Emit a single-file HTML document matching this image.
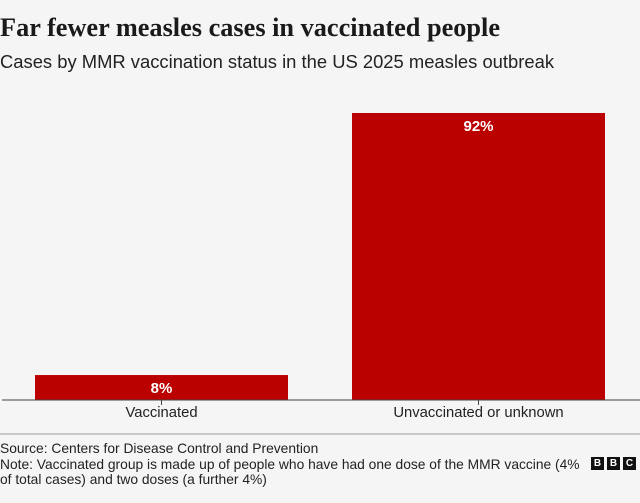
<!DOCTYPE html>
<html><head><meta charset="utf-8"><style>
body{margin:0;background:#f5f5f5;width:640px;height:503px;overflow:hidden;font-family:"Liberation Sans",sans-serif;color:#222}
.t{position:absolute;left:0;top:13px;font:bold 26.3px "Liberation Serif",serif;color:#1a1a1a;white-space:nowrap}
.s{position:absolute;left:0;top:51px;font-size:18.4px;color:#222;white-space:nowrap}
.f{position:absolute;left:0;font-size:13.8px;white-space:nowrap;color:#222}
.bbc{position:absolute;top:457px;width:13px;height:13px;background:#111;color:#fff;font:bold 10px "Liberation Sans",sans-serif;text-align:center;line-height:13px}
</style></head><body>
<div class="t">Far fewer measles cases in vaccinated people</div>
<div class="s">Cases by MMR vaccination status in the US 2025 measles outbreak</div>
<svg id="c" width="640" height="440" style="position:absolute;left:0;top:0"></svg>
<div style="position:absolute;left:0;top:433px;width:640px;height:2px;background:#c8c8c8"></div>
<div class="f" style="top:441px">Source: Centers for Disease Control and Prevention</div>
<div class="f" style="top:457px">Note: Vaccinated group is made up of people who have had one dose of the MMR vaccine (4%<br>of total cases) and two doses (a further 4%)</div>
<div class="bbc" style="left:591px">B</div>
<div class="bbc" style="left:607px">B</div>
<div class="bbc" style="left:623px">C</div>
<script>
const categories=["Vaccinated","Unvaccinated or unknown"];
const values=[8,92];
const valueLabels=["8%","92%"];
const svg=document.getElementById('c');
const NS="http://www.w3.org/2000/svg";
const base=400, pxPer=287/92;
const y=v=>base-v*pxPer;
const bandStart=35, bandStep=317, barW=253;
const x=i=>bandStart+i*bandStep;
function mk(t,a){const e=document.createElementNS(NS,t);for(const k in a)e.setAttribute(k,a[k]);svg.appendChild(e);return e;}
values.forEach((v,i)=>{
  const r=mk('rect',{x:x(i),y:y(v),width:barW,height:base-y(v),fill:'#bb0000'});
  
  
  const t=mk('text',{x:x(i)+barW/2,y:y(v)+18,'text-anchor':'middle',fill:'#fff','font-size':'15','font-weight':'bold','font-family':'Liberation Sans, sans-serif'});
  t.textContent=valueLabels[i];
  
  
  const tk=mk('line',{x1:x(i)+barW/2,x2:x(i)+barW/2,y1:base,y2:base+5,stroke:'#444','stroke-width':1});
  
  
  const c=mk('text',{x:x(i)+barW/2,y:base+17,'text-anchor':'middle',fill:'#222','font-size':'14.8','font-family':'Liberation Sans, sans-serif'});
  c.textContent=categories[i];
  
  
});
const ax=mk('line',{x1:2,x2:640,y1:base,y2:base,stroke:'#444','stroke-width':1});


</script>
</body></html>
